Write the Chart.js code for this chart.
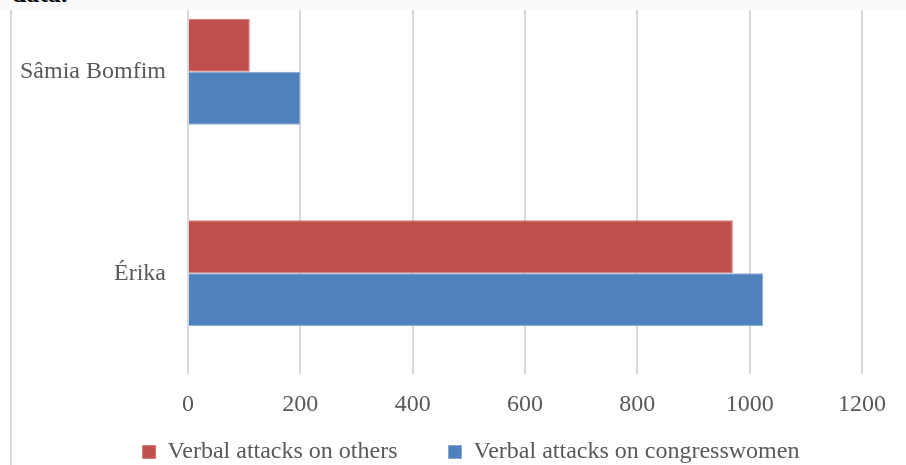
<!DOCTYPE html>
<html>
<head>
<meta charset="utf-8">
<script src="https://cdn.jsdelivr.net/npm/chart.js@4"></script>
<style>
  body { margin: 0; background: #fff; }
  #wrap { position: relative; width: 906px; height: 465px; overflow: hidden; }
  #chart { position: absolute; left: 0; top: -40px; }
  #band { position: absolute; left: 0; top: 0; width: 906px; height: 10px; background: #fafafa; overflow: hidden; }
  #band span { position: absolute; left: 12px; top: -19px; font: bold 26px "Liberation Serif", serif; line-height: 26px; color: #000; }
</style>
</head>
<body>
<div id="wrap">
  <canvas id="chart" width="906" height="505"></canvas>
  <div id="band"><span>data.</span></div>
</div>
<script>
// valores
const categories = ["Sâmia Bomfim", "Érika"];
const attacksOthers = [110, 970];
const attacksCongresswomen = [200, 1024];
const xTicks = [0, 200, 400, 600, 800, 1000, 1200];

const textColor = "#595959";
const gridColor = "#d9d9d9";
const serif = "'Liberation Serif', 'Times New Roman', serif";

// linha cinza da moldura à esquerda
const frameLine = {
  id: "frameLine",
  afterDraw(chart) {
    const ctx = chart.ctx;
    ctx.save();
    ctx.strokeStyle = gridColor;
    ctx.lineWidth = 2;
    ctx.beginPath();
    ctx.moveTo(11, 0);
    ctx.lineTo(11, chart.height);
    ctx.stroke();
    ctx.restore();
  },
};

// posiciona a legenda como no original
const moveLegend = {
  id: "moveLegend",
  afterLayout(chart) {
    const lg = chart.legend;
    const h = lg.bottom - lg.top;
    lg.top = 429;
    lg.bottom = 429 + h;
    lg.left += 40;
    lg.right += 40;
  },
};

const datasets = [
  {
    label: "Verbal attacks on others",
    data: attacksOthers,
    backgroundColor: "#c0504d",
    borderColor: "#d27b79",
    borderWidth: 1,
  },
  {
    label: "Verbal attacks on congresswomen",
    data: attacksCongresswomen,
    backgroundColor: "#4f81bd",
    borderColor: "#86a8d2",
    borderWidth: 1,
  },
];

const config = {
  type: "bar",
  data: { labels: categories, datasets },
  options: {
    indexAxis: "y",
    responsive: false,
    animation: false,
    datasets: { bar: { categoryPercentage: 0.525, barPercentage: 1 } },
    layout: { padding: { top: 11, left: 0, right: 44, bottom: -35 } },
    plugins: {
      tooltip: { enabled: false },
      legend: {
        position: "bottom",
        labels: {
          color: textColor,
          font: { family: serif, size: 24 },
          boxWidth: 13,
          boxHeight: 13,
          padding: 51,
        },
      },
    },
    scales: {
      x: {
        min: 0,
        max: 1200,
        afterBuildTicks: (axis) => {
          axis.ticks = xTicks.map((v) => ({ value: v }));
        },
        afterFit: (axis) => {
          axis.height = 41;
          axis.paddingLeft = 0;
          axis.paddingRight = 0;
        },
        grid: { color: gridColor, lineWidth: 2, drawTicks: false },
        border: { display: false },
        ticks: {
          color: textColor,
          font: { family: serif, size: 24 },
          padding: 16,
          callback: (v) => String(v),
        },
      },
      y: {
        afterFit: (axis) => {
          axis.width = 188;
          axis.paddingTop = 0;
          axis.paddingBottom = 0;
        },
        grid: { display: false, drawTicks: false },
        border: { display: false },
        ticks: { color: textColor, font: { family: serif, size: 24 }, padding: 22 },
      },
    },
  },
  plugins: [frameLine, moveLegend],
};

new Chart(document.getElementById("chart"), config);
</script>
</body>
</html>
